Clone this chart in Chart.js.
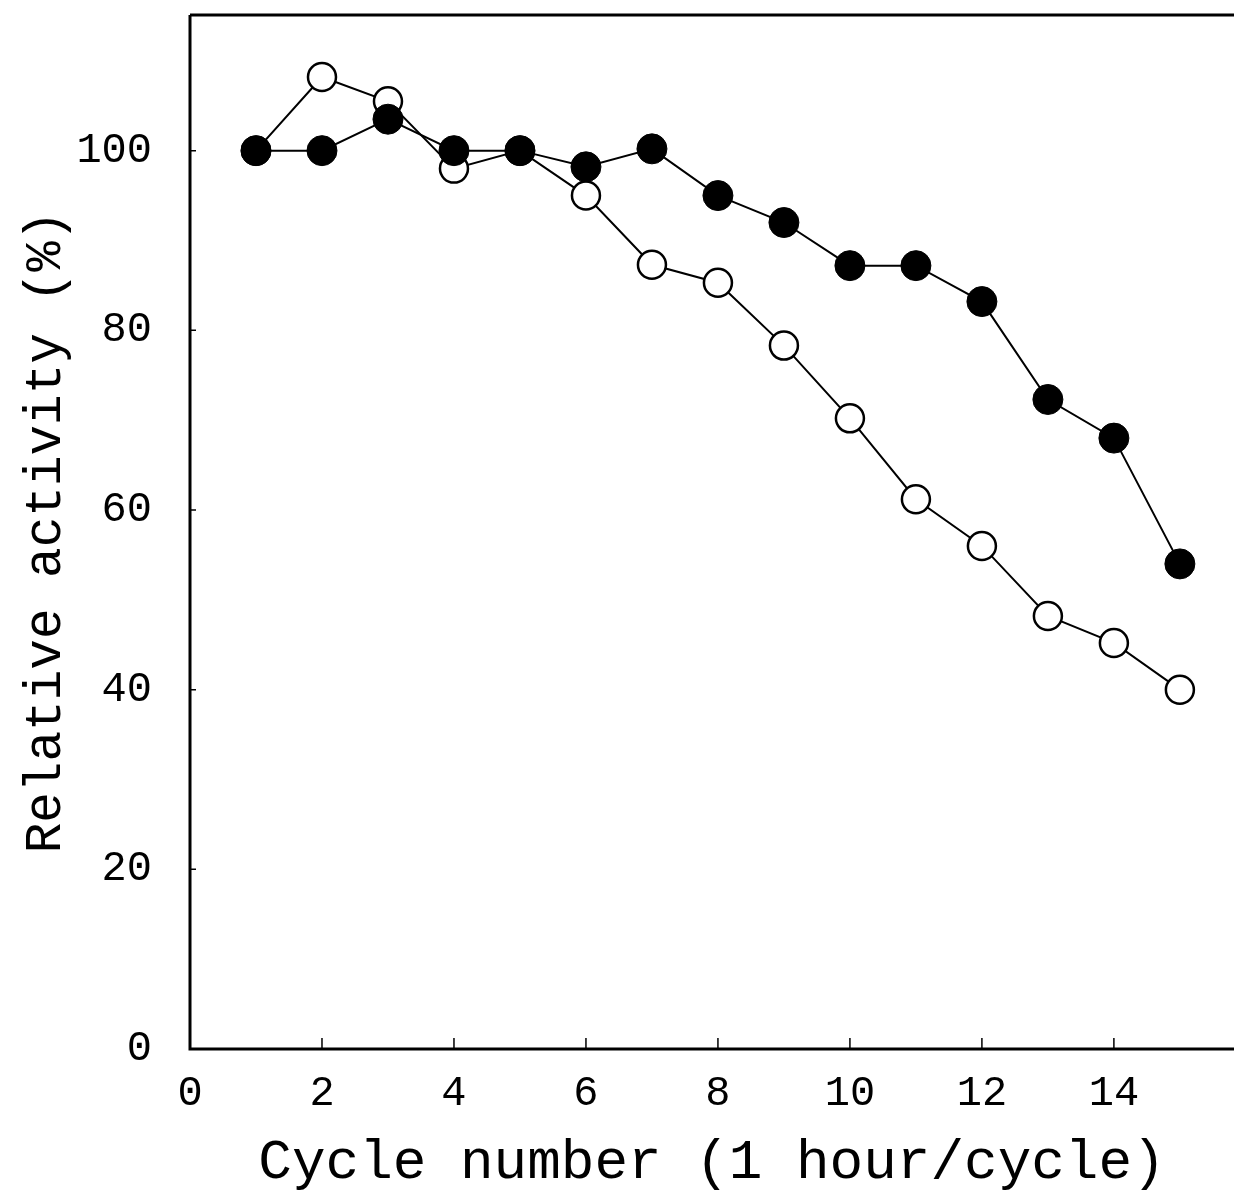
<!DOCTYPE html>
<html>
<head>
<meta charset="utf-8">
<script src="https://cdn.jsdelivr.net/npm/chart.js@4.4.1/dist/chart.umd.min.js"></script>
<style>
  html, body { margin: 0; padding: 0; background: #fff; overflow: hidden; }
  #wrap { width: 1234px; height: 1190px; position: relative; }
  canvas { display: block; }
</style>
</head>
<body>
<div id="wrap"><canvas id="activityChart"></canvas></div>
<script>
// cycle numbers and relative activity (%)
const cycles = [1, 2, 3, 4, 5, 6, 7, 8, 9, 10, 11, 12, 13, 14, 15];
const filledSeries = [100, 100, 103.5, 100, 100, 98.2, 100.2, 95, 92, 87.2, 87.2, 83.2, 72.3, 68, 54];
const openSeries = [100, 108.2, 105.5, 98, 100, 95, 87.3, 85.3, 78.3, 70.2, 61.2, 56, 48.2, 45.2, 40];
const xTicks = [0, 2, 4, 6, 8, 10, 12, 14];
const yTicks = [0, 20, 40, 60, 80, 100];

const toPoints = vals => cycles.map((c, i) => ({ x: c, y: vals[i] }));
const mono = '"Liberation Mono", "Courier New", monospace';

// keep the plot box fixed: no extra room for edge labels
const noPad = s => { s.paddingTop = 0; s.paddingBottom = 0; s.paddingLeft = 0; s.paddingRight = 0; };

// frame lines and small inward tick marks, as in the printed figure
const framePlugin = {
    id: 'frame',
    afterDatasetsDraw(chart) {
        const { ctx, chartArea: a, scales } = chart;
        ctx.save();
        ctx.strokeStyle = '#000';
        ctx.lineWidth = 3;
        ctx.beginPath();
        ctx.moveTo(a.left, a.top);
        ctx.lineTo(a.right, a.top);
        ctx.moveTo(a.left, a.top);
        ctx.lineTo(a.left, a.bottom);
        ctx.lineTo(a.right, a.bottom);
        ctx.stroke();
        ctx.lineWidth = 1.5;
        ctx.beginPath();
        xTicks.forEach(v => {
            if (v === 0) return;
            const px = scales.x.getPixelForValue(v);
            ctx.moveTo(px, a.bottom);
            ctx.lineTo(px, a.bottom - 11);
        });
        yTicks.forEach(v => {
            const py = scales.y.getPixelForValue(v);
            ctx.moveTo(a.left, py);
            ctx.lineTo(a.left + 6, py);
        });
        ctx.stroke();
        ctx.restore();
    }
};

const ctx = document.getElementById('activityChart').getContext('2d');
new Chart(ctx, {
    type: 'scatter',
    data: {
        datasets: [
            {
                data: toPoints(filledSeries),
                showLine: true,
                borderColor: '#000',
                borderWidth: 2,
                pointRadius: 15,
                pointBackgroundColor: '#000',
                pointBorderColor: '#000',
                pointBorderWidth: 1
            },
            {
                data: toPoints(openSeries),
                showLine: true,
                borderColor: '#000',
                borderWidth: 2,
                pointRadius: 14,
                pointBackgroundColor: '#fff',
                pointBorderColor: '#000',
                pointBorderWidth: 2.5
            }
        ]
    },
    options: {
        responsive: true,
        maintainAspectRatio: false,
        animation: false,
        devicePixelRatio: 1,
        layout: { autoPadding: false, padding: { left: 0, top: 15, right: 0, bottom: 0 } },
        plugins: { legend: { display: false }, tooltip: { enabled: false } },
        scales: {
            x: {
                type: 'linear',
                min: 0,
                max: 15.82,
                afterFit: s => { s.height = 141; noPad(s); },
                afterBuildTicks: s => { s.ticks = xTicks.map(v => ({ value: v })); },
                grid: { display: false, drawTicks: false },
                border: { display: false },
                ticks: { color: '#000', padding: 20, maxRotation: 0, autoSkip: false,
                         font: { family: mono, size: 42 } },
                title: { display: true, text: 'Cycle number (1 hour/cycle)', color: '#000',
                         padding: { top: 0, bottom: 2 },
                         font: { family: mono, size: 56, lineHeight: 0.9 } }
            },
            y: {
                min: 0,
                max: 115.1,
                afterFit: s => { s.width = 190; noPad(s); },
                afterBuildTicks: s => { s.ticks = yTicks.map(v => ({ value: v })); },
                grid: { display: false, drawTicks: false },
                border: { display: false },
                ticks: { color: '#000', padding: 38, autoSkip: false,
                         font: { family: mono, size: 42 } },
                title: { display: true, text: 'Relative activity (%)', color: '#000',
                         padding: { top: 16, bottom: 0 },
                         font: { family: mono, size: 51, lineHeight: 1.2 } }
            }
        }
    },
    plugins: [framePlugin]
});
</script>
</body>
</html>
